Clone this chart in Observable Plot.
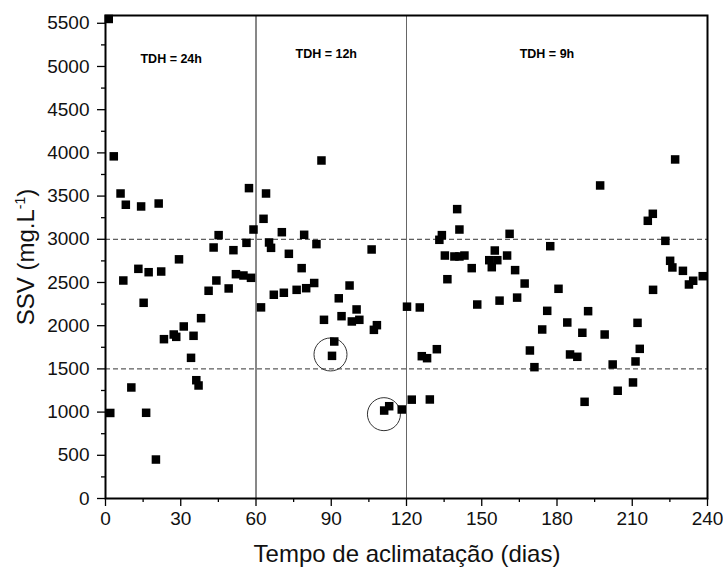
<!DOCTYPE html>
<html>
<head>
<meta charset="utf-8">
<script src="https://cdn.jsdelivr.net/npm/d3@7"></script>
<script src="https://cdn.jsdelivr.net/npm/@observablehq/plot@0.6"></script>
<style>
  html, body { margin: 0; padding: 0; background: #fff; }
  svg { font-family: "Liberation Sans", Arial, sans-serif; }
</style>
</head>
<body>
<div id="chart"></div>
<script>
// Days of acclimation
const days = [
  1.3, 1.9, 3.3, 6, 7.1, 8.1, 10.3, 13.1, 14.2, 15.2, 16.2, 17.2, 20.1, 21.2, 22.2, 23.3,
  27.2, 28.2, 29.3, 31.2, 34.1, 35.1, 36.2, 37.1, 38.1, 41.1, 43.1, 44.2, 45.1, 49.1, 51,
  52, 55, 56.2, 57.2, 58, 59,
  62, 63, 64, 65.2, 66, 67.1, 70.3, 71.1, 73.1, 76.2, 78.2, 79.2, 80, 83.2, 84.1, 86.1,
  87.1, 90.3, 91.2, 93, 94.1, 97.3, 98.2, 100.1, 101.2, 106.1, 107, 108.2, 111.1, 113.1,
  118.1, 120.2,
  122.1, 125.3, 126.1, 128.2, 129.3, 132.1, 133.1, 134.1, 135.3, 136.3, 139.1, 140.2,
  141.1, 141.1, 143.1, 146, 148.2, 153, 154, 155.2, 156.2, 157.1, 160.1, 161.1, 163.3,
  164.1, 167.1, 169.2, 171, 174.1, 176.1, 177.3, 180.6, 184.1, 185.2, 188.1, 190.1, 191,
  192.4, 197.2, 199, 202.2, 204.2, 210.3, 211.3, 212.1, 213, 216.2, 218.2, 218.3, 223.2,
  225.1, 226, 227.1, 230.2, 232.6, 234.3, 238.1
];
// SSV (mg/L)
const ssv = [
  5550, 990, 3960, 3530, 2523, 3400, 1285, 2658, 3380, 2265, 992, 2619, 451, 3414, 2627, 1844,
  1898, 1871, 2768, 1991, 1628, 1883, 1369, 1308, 2087, 2404, 2905, 2523, 3048, 2431, 2874,
  2596, 2581, 2959, 3592, 2554, 3113,
  2212, 3237, 3530, 2963, 2901, 2358, 3082, 2381, 2832, 2415, 2666, 3052, 2434, 2494, 2944, 3912,
  2068, 1651, 1817, 2317, 2110, 2465, 2049, 2188, 2068, 2882, 1952, 2006, 1018, 1068,
  1030, 2220,
  1144, 2211, 1647, 1624, 1146, 1728, 2994, 3048, 2812, 2538, 2801, 3349,
  3113, 2801, 2812, 2666, 2245, 2758, 2677, 2870, 2758, 2290, 2812, 3063, 2643,
  2325, 2488, 1713, 1520, 1956, 2172, 2920, 2427, 2037, 1667, 1640, 1918, 1119,
  2168, 3623, 1898, 1551, 1247, 1343, 1586, 2033, 1732, 3214, 3295, 2415, 2982,
  2751, 2674, 3924, 2635, 2477, 2520, 2573
];

// Phase dividers and reference levels
const phaseDividers = [60, 120];
const refLevels = [1500, 3000];

// Phase labels
const phaseLabels = ["TDH = 24h", "TDH = 12h", "TDH = 9h"];
const phaseLabelX = [26.2, 88, 176];
const phaseLabelY = [5090, 5150, 5150];

// Highlighted points (circled)
const circleX = [89.7, 111];
const circleY = [1667, 976];

// Ticks
const xTicks = [0, 30, 60, 90, 120, 150, 180, 210, 240];
const xMinor = [15, 45, 75, 105, 135, 165, 195, 225];
const yTicks = [0, 500, 1000, 1500, 2000, 2500, 3000, 3500, 4000, 4500, 5000, 5500];
const yMinor = [250, 750, 1250, 1750, 2250, 2750, 3250, 3750, 4250, 4750, 5250];

const points = days.map((d, i) => ({day: d, v: ssv[i]}));
const labels = phaseLabels.map((t, i) => ({t, x: phaseLabelX[i], y: phaseLabelY[i]}));
const circles = circleX.map((x, i) => ({x, y: circleY[i]}));

const fmt = (d) => String(d);

const chart = Plot.plot({
  width: 723,
  height: 574,
  marginLeft: 105,
  marginRight: 16,
  marginTop: 15,
  marginBottom: 76,
  style: {fontFamily: "'Liberation Sans', Arial, sans-serif", background: "#fff"},
  x: {domain: [0, 240]},
  y: {domain: [0, 5590]},
  marks: [
    Plot.ruleY(refLevels, {stroke: "#333", strokeWidth: 1, strokeDasharray: "5,3"}),
    Plot.ruleX(phaseDividers, {stroke: (d) => d === 60 ? "#111" : "#666", strokeWidth: 1}),
    Plot.dot(circles, {x: "x", y: "y", r: 16.5, stroke: "#333", strokeWidth: 1, fill: "none"}),
    Plot.dot(points, {x: "day", y: "v", symbol: "square", fill: "#000", stroke: "none", r: 4.8}),
    Plot.text(labels, {x: "x", y: "y", text: "t", fontSize: 12.5, fontWeight: "bold", fill: "#000"}),
    Plot.axisY(yTicks, {tickSize: 8, tickPadding: 8, fontSize: 19, tickFormat: fmt, label: null, stroke: "#000", strokeWidth: 1.3, fill: "#111"}),
    Plot.axisY(yMinor, {tickSize: 4, text: null, label: null, stroke: "#000", strokeWidth: 1.3}),
    Plot.axisX(xTicks, {tickSize: 8, tickPadding: 5, fontSize: 19, tickFormat: fmt, label: null, stroke: "#000", strokeWidth: 1.3, fill: "#111"}),
    Plot.axisX(xMinor, {tickSize: 4, text: null, label: null, stroke: "#000", strokeWidth: 1.3}),
    Plot.frame({stroke: "#000", strokeWidth: 2})
  ]
});

document.getElementById("chart").appendChild(chart);

const svg = d3.select(chart);
// Y axis title with superscript
const yt = svg.append("text")
  .attr("transform", "translate(34,257) rotate(-90)")
  .attr("text-anchor", "middle")
  .attr("font-size", 24)
  .attr("fill", "#111");
yt.append("tspan").text("SSV (mg.L");
yt.append("tspan").attr("font-size", 14).attr("dy", -9).text("-1");
yt.append("tspan").attr("dy", 9).text(")");

// X axis title
svg.append("text")
  .attr("x", 407)
  .attr("y", 562)
  .attr("text-anchor", "middle")
  .attr("font-size", 24)
  .attr("fill", "#111")
  .text("Tempo de aclimatação (dias)");
</script>
</body>
</html>
